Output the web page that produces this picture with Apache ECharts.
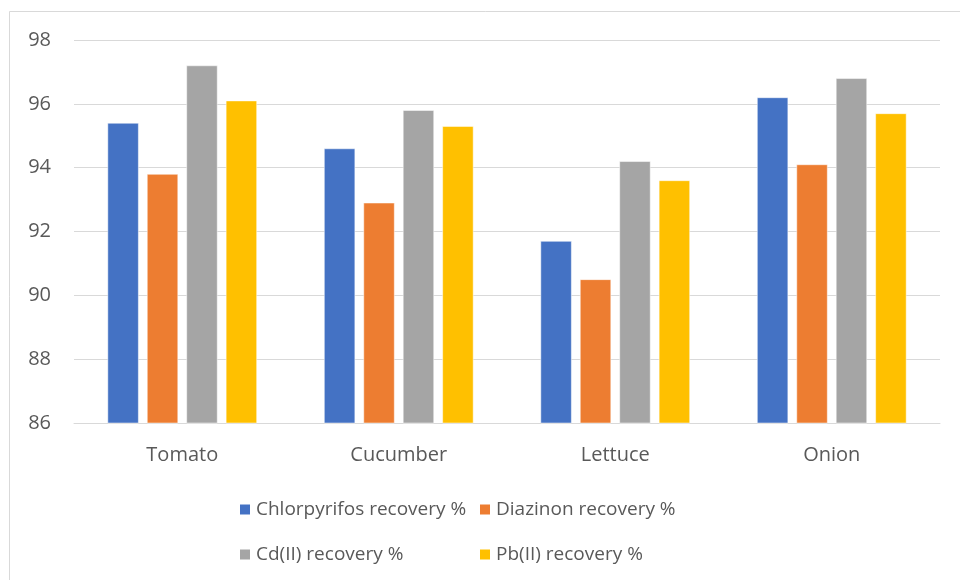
<!DOCTYPE html>
<html>
<head>
<meta charset="utf-8">
<script src="https://cdn.jsdelivr.net/npm/echarts@6/dist/echarts.min.js"></script>
<style>
  html, body { margin: 0; padding: 0; background: #fff; }
  #chart { width: 960px; height: 580px; }
</style>
</head>
<body>
<div id="chart"></div>
<script>
// Recovery percentages per vegetable sample
const categories = ['Tomato', 'Cucumber', 'Lettuce', 'Onion'];
const seriesNames = ['Chlorpyrifos recovery %', 'Diazinon recovery %', 'Cd(II) recovery %', 'Pb(II) recovery %'];
const chlorpyrifos = [95.4, 94.6, 91.7, 96.2];
const diazinon = [93.8, 92.9, 90.5, 94.1];
const cadmium = [97.2, 95.8, 94.2, 96.8];
const lead = [96.1, 95.3, 93.6, 95.7];
const yTicks = [86, 88, 90, 92, 94, 96, 98];

const colors = ['#4472C4', '#ED7D31', '#A5A5A5', '#FFC000'];
const values = [chlorpyrifos, diazinon, cadmium, lead];
const fontFamily = '"Open Sans", "Noto Sans", sans-serif';
const textColor = '#595959';

const chart = echarts.init(document.getElementById('chart'), null, { renderer: 'canvas' });

// one legend per item so the two columns line up
const legendPos = [
  { left: 233, top: 495 },
  { left: 473, top: 495 },
  { left: 233, top: 540 },
  { left: 473, top: 540 }
];

chart.setOption({
  animation: false,
  backgroundColor: '#fff',
  color: colors,
  graphic: [{
    type: 'rect',
    shape: { x: 9.5, y: 11.5, width: 960, height: 580 },
    style: { fill: 'none', stroke: '#d9d9d9', lineWidth: 1 },
    silent: true,
    z: -1
  }],
  grid: { left: 74, right: 20, top: 40, bottom: 157, containLabel: false },
  legend: seriesNames.map((name, i) => ({
    data: [name],
    left: legendPos[i].left,
    top: legendPos[i].top,
    itemWidth: 12,
    itemHeight: 12,
    itemGap: 6,
    icon: 'rect',
    selectedMode: false,
    textStyle: { color: textColor, fontSize: 19, fontFamily: fontFamily }
  })),
  xAxis: {
    type: 'category',
    data: categories,
    axisLine: { show: true, lineStyle: { color: '#d9d9d9', width: 1 } },
    axisTick: { show: false },
    axisLabel: { color: textColor, fontSize: 20, fontFamily: fontFamily, margin: 22 }
  },
  yAxis: {
    type: 'value',
    min: yTicks[0],
    max: yTicks[yTicks.length - 1],
    interval: 2,
    axisLine: { show: false },
    axisTick: { show: false },
    splitLine: { lineStyle: { color: '#d9d9d9', width: 1 } },
    axisLabel: { color: textColor, fontSize: 20, fontFamily: fontFamily, margin: 23 }
  },
  series: seriesNames.map((name, i) => ({
    name: name,
    type: 'bar',
    data: values[i],
    barGap: '27%',
    barCategoryGap: '31%',
    itemStyle: { color: colors[i], borderColor: '#ffffff', borderWidth: 0.5 }
  }))
});
</script>
</body>
</html>
